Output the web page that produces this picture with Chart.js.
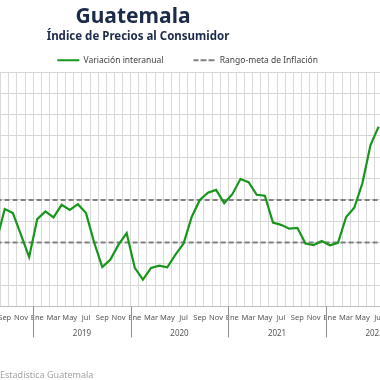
<!DOCTYPE html>
<html>
<head>
<meta charset="utf-8">
<script src="https://cdn.jsdelivr.net/npm/chart.js@4.4.0/dist/chart.umd.min.js"></script>
<style>
    html, body { margin: 0; padding: 0; background: #ffffff; }
    #marco { position: relative; width: 380px; height: 380px; overflow: hidden; font-family: 'Noto Sans', sans-serif; }
    #titulo { position: absolute; left: 0; top: 5px; width: 266px; text-align: center; font-size: 21px; line-height: 1; font-weight: bold; color: #1c2b4a; }
    #subtitulo { position: absolute; left: 0; top: 30px; width: 276px; text-align: center; font-size: 11.5px; line-height: 1; font-weight: bold; color: #1c2b4a; }
    #fuente { position: absolute; left: 0; top: 370px; font-size: 9px; line-height: 1; color: #a3a3a3; }
    #contenedor { position: absolute; left: -40px; top: 0; width: 460px; height: 380px; }
</style>
</head>
<body>
<div id="marco">
    <div id="contenedor"><canvas id="ipcChart"></canvas></div>
    <div id="titulo">Guatemala</div>
    <div id="subtitulo">Índice de Precios al Consumidor</div>
    <div id="fuente">Estadística Guatemala</div>
</div>
<script>
// Meses (etiquetas del eje) y años
var meses = ['Ene', 'Feb', 'Mar', 'Abr', 'May', 'Jun', 'Jul', 'Ago', 'Sep', 'Oct', 'Nov', 'Dic'];
var anios = [2018, 2019, 2020, 2021, 2022];
var mesInicial = 7; // Ago 2018

// Variación interanual del IPC (%), Ago 2018 - Jul 2022
var variacion = [
    3.10, 4.57, 4.38, 3.36, 2.32,
    4.10, 4.46, 4.18, 4.77, 4.53, 4.80, 4.38, 3.00, 1.85, 2.20, 2.90, 3.44,
    1.81, 1.26, 1.81, 1.92, 1.84, 2.43, 2.95, 4.20, 5.00, 5.34, 5.47, 4.85,
    5.27, 5.98, 5.83, 5.24, 5.20, 3.94, 3.83, 3.65, 3.69, 2.95, 2.88, 3.07,
    2.87, 2.99, 4.20, 4.63, 5.78, 7.57, 8.44
];

// Rango-meta de inflación: [inferior, superior]
var rangoMeta = [3, 5];

var periodos = [];
for (var i = 0; i < variacion.length; i++) {
    var m = (mesInicial + i) % 12;
    var a = anios[0] + Math.floor((mesInicial + i) / 12);
    periodos.push(meses[m] + ' ' + a);
}

// Separadores y etiquetas de año debajo del eje
var etiquetasAnio = {
    id: 'etiquetasAnio',
    afterDraw: function (chart) {
        var x = chart.scales.x;
        var area = chart.chartArea;
        var ctx = chart.ctx;
        ctx.save();
        ctx.strokeStyle = '#8f8f8f';
        ctx.lineWidth = 1;
        ctx.fillStyle = '#555555';
        ctx.font = "8px 'Noto Sans', sans-serif";
        ctx.textAlign = 'center';
        ctx.textBaseline = 'middle';
        anios.forEach(function (anio, k) {
            var ene = k * 12 - mesInicial;
            var xSep = Math.round(x.getPixelForValue(ene - 0.5)) + 0.5;
            if (xSep > area.left && xSep < area.right) {
                ctx.beginPath();
                ctx.moveTo(xSep, area.bottom);
                ctx.lineTo(xSep, area.bottom + 31);
                ctx.stroke();
            }
            var xCentro = (x.getPixelForValue(ene) + x.getPixelForValue(ene + 11)) / 2;
            ctx.fillText(String(anio), xCentro, area.bottom + 27);
        });
        ctx.restore();
    }
};

var ctx = document.getElementById('ipcChart').getContext('2d');
var ipcChart = new Chart(ctx, {
    type: 'line',
    data: {
        labels: periodos,
        datasets: [{
            label: 'Variación interanual',
            data: variacion,
            borderColor: '#17961b',
            backgroundColor: '#17961b',
            borderWidth: 2.2,
            pointRadius: 0,
            tension: 0
        }, {
            label: 'Rango-meta de Inflación',
            data: periodos.map(function () { return rangoMeta[1]; }),
            borderColor: '#808080',
            backgroundColor: 'rgba(0,0,0,0)',
            borderWidth: 2,
            borderDash: [5, 3],
            pointRadius: 0
        }, {
            label: 'Rango-meta inferior',
            data: periodos.map(function () { return rangoMeta[0]; }),
            borderColor: '#808080',
            backgroundColor: 'rgba(0,0,0,0)',
            borderWidth: 2,
            borderDash: [5, 3],
            pointRadius: 0
        }]
    },
    options: {
        responsive: true,
        maintainAspectRatio: false,
        animation: false,
        layout: { padding: { left: 32.55, right: 37.3, top: 26, bottom: 0 } },
        plugins: {
            legend: {
                position: 'top',
                maxHeight: 46,
                labels: {
                    boxWidth: 22,
                    boxHeight: 0,
                    padding: 30,
                    color: '#404040',
                    font: { family: 'Noto Sans', size: 8.5 },
                    filter: function (item) { return item.datasetIndex < 2; }
                }
            },
            tooltip: { enabled: false }
        },
        scales: {
            x: {
                offset: true,
                grid: { offset: true, color: '#dadada', drawTicks: false },
                border: { color: '#bdbdbd' },
                ticks: {
                    autoSkip: false,
                    maxRotation: 0,
                    padding: 7,
                    color: '#555555',
                    font: { family: 'Noto Sans', size: 7.5 },
                    callback: function (v, i) {
                        var m = (mesInicial + i) % 12;
                        return m % 2 === 0 ? meses[m] : '';
                    }
                },
                afterFit: function (s) {
                    s.height = 73.5;
                    s.paddingLeft = 0;
                    s.paddingRight = 0;
                }
            },
            y: {
                min: 0,
                max: 11,
                ticks: { stepSize: 1, display: false },
                grid: { color: '#d6d6d6', drawTicks: false },
                border: { display: false },
                afterFit: function (s) { s.width = 0; }
            }
        }
    },
    plugins: [etiquetasAnio]
});
</script>
</body>
</html>
